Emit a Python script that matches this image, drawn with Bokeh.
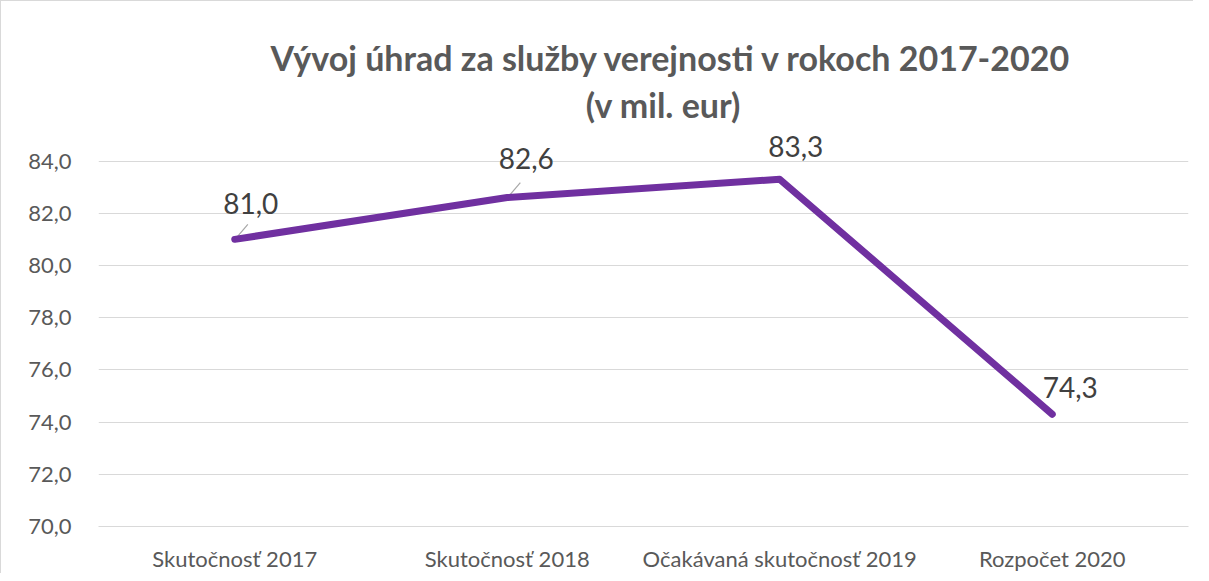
from bokeh.plotting import figure
from bokeh.models import Range1d, FixedTicker, ColumnDataSource, LabelSet, Label
from bokeh.core.properties import value
from bokeh.embed import file_html
from bokeh.resources import INLINE

categories = ["Skutočnosť 2017", "Skutočnosť 2018", "Očakávaná skutočnosť 2019", "Rozpočet 2020"]
values = [81.0, 82.6, 83.3, 74.3]
value_labels = ["81,0", "82,6", "83,3", "74,3"]
y_ticks = [70, 72, 74, 76, 78, 80, 82, 84]
y_tick_labels = ["70,0", "72,0", "74,0", "76,0", "78,0", "80,0", "82,0", "84,0"]
title_line1 = "Vývoj úhrad za služby verejnosti v rokoch 2017-2020"
title_line2 = "(v mil. eur)"

xs = list(range(len(categories)))

FONT = "Lato"
GRID = "#d9d9d9"
TEXT = "#595959"

# y range extends above the top tick to leave room for the title and data labels
p = figure(width=1193, height=573, output_backend="svg", toolbar_location=None,
           x_range=Range1d(-0.5, len(categories) - 0.5), y_range=Range1d(70, 89),
           min_border_left=97, min_border_right=6, min_border_top=29, min_border_bottom=46)
p.styles = {"border-left": "1px solid #d9d9d9", "border-top": "1px solid #d9d9d9"}
p.outline_line_color = None
p.background_fill_color = "white"
p.border_fill_color = "white"

# axes
p.yaxis.ticker = FixedTicker(ticks=y_ticks)
p.yaxis.major_label_overrides = {t: l for t, l in zip(y_ticks, y_tick_labels)}
p.xaxis.ticker = FixedTicker(ticks=xs)
p.xaxis.major_label_overrides = {i: c for i, c in zip(xs, categories)}
for ax in (p.xaxis, p.yaxis):
    ax.major_label_text_font = FONT
    ax.major_label_text_font_size = "22px"
    ax.major_label_text_color = TEXT
    ax.major_tick_line_color = None
    ax.minor_tick_line_color = None
p.yaxis.axis_line_color = None
p.xaxis.axis_line_color = GRID
p.yaxis.major_label_standoff = 21
p.xaxis.major_label_standoff = 12

p.xgrid.grid_line_color = None
p.ygrid.ticker = FixedTicker(ticks=y_ticks)
p.ygrid.grid_line_color = GRID
p.ygrid.grid_line_width = 1

# title, placed above the top gridline
top = max(y_ticks)
mid = (len(categories) - 1) / 2
p.add_layout(Label(x=mid, y=top, x_offset=28, y_offset=104, text=title_line1,
                   text_font=FONT, text_font_size="34px", text_font_style="bold",
                   text_color=TEXT, text_align="center", text_baseline="middle"))
p.add_layout(Label(x=mid, y=top, x_offset=20, y_offset=57, text=title_line2,
                   text_font=FONT, text_font_size="34px", text_font_style="bold",
                   text_color=TEXT, text_align="center", text_baseline="middle"))

# leader lines (first two labels)
lead = [0, 1]
p.segment(x0=[xs[i] + 0.005 for i in lead], y0=[values[i] + 0.05 for i in lead],
          x1=[xs[i] + 0.048 for i in lead], y1=[values[i] + 0.57 for i in lead],
          line_color="#a6a6a6", line_width=1.2)

# line
p.line(xs, values, line_color="#7030A0", line_width=7, line_cap="round", line_join="round")

# data labels
src = ColumnDataSource(dict(x=xs, y=values, t=value_labels,
                            dx=[16, 19, 16, 18], dy=[36, 39, 33, 27]))
labels = LabelSet(x="x", y="y", text="t", source=src, x_offset="dx", y_offset="dy",
                  text_font=value(FONT), text_font_size="28px", text_color="#404040",
                  text_align="center", text_baseline="middle")
p.add_layout(labels)

open("out.html", "w").write(file_html(p, INLINE))
